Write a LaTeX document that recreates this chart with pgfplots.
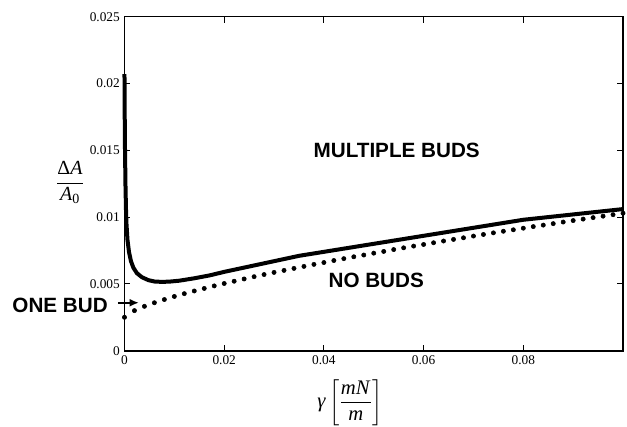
\documentclass[border=0pt]{standalone}
\usepackage{amsmath}
\usepackage{pgfplots}
\pgfplotsset{compat=1.18}
\usetikzlibrary{arrows.meta}
\usepackage{fontspec}
\setmainfont{Liberation Serif}
\newfontfamily\labelfont{Liberation Sans}

% boundary curves
\pgfplotstableread{
x        y
0        0.0207
0.00005  0.0175
0.0001   0.0152
0.0002   0.0124
0.0003   0.0106
0.0004   0.0095
0.0006   0.0083
0.0009   0.0074
0.0013   0.0067
0.0018   0.0062
0.0025   0.0058
0.0035   0.0055
0.0048   0.00528
0.006    0.00518
0.0075   0.00515
0.009    0.00517
0.011    0.00524
0.014    0.00542
0.017    0.00563
0.02     0.00590
0.025    0.0063
0.03     0.0067
0.035    0.0071
0.04     0.0074
0.045    0.0077
0.05     0.0080
0.055    0.0083
0.06     0.0086
0.065    0.0089
0.07     0.0092
0.075    0.0095
0.08     0.0098
0.085    0.0100
0.09     0.0102
0.095    0.0104
0.1      0.0106
}\multiple

\pgfplotstableread{
x      y
0      0.00250
0.002  0.00300
0.004  0.00332
0.006  0.00359
0.008  0.00383
0.010  0.00406
0.012  0.00427
0.014  0.00447
0.016  0.00466
0.018  0.00485
0.020  0.00503
0.022  0.00520
0.024  0.00537
0.026  0.00554
0.028  0.00570
0.030  0.00586
0.032  0.00601
0.034  0.00616
0.036  0.00631
0.038  0.00646
0.040  0.00660
0.042  0.00675
0.044  0.00689
0.046  0.00703
0.048  0.00716
0.050  0.00730
0.052  0.00743
0.054  0.00757
0.056  0.00770
0.058  0.00783
0.060  0.00795
0.062  0.00808
0.064  0.00821
0.066  0.00833
0.068  0.00845
0.070  0.00858
0.072  0.00870
0.074  0.00882
0.076  0.00894
0.078  0.00905
0.080  0.00917
0.082  0.00929
0.084  0.00940
0.086  0.00951
0.088  0.00963
0.090  0.00974
0.092  0.00985
0.094  0.00996
0.096  0.01007
0.098  0.01018
0.100  0.01029
}\onebud

\begin{document}
\begin{tikzpicture}
\begin{axis}[
    scale only axis,
    width=373.9pt,
    height=250.5pt,
    xmin=0, xmax=0.1,
    ymin=0, ymax=0.025,
    clip=false,
    tick align=inside,
    major tick length=4.5pt,
    every tick/.style={black,line width=0.8pt},
    axis line style={line width=1.2pt},
    xtick={0,0.02,0.04,0.06,0.08},
    xticklabels={0,0.02,0.04,0.06,0.08},
    ytick={0,0.005,0.01,0.015,0.02,0.025},
    yticklabels={0,0.005,0.01,0.015,0.02,0.025},
    scaled ticks=false,
    /pgf/number format/assume math mode=true,
    tick label style={font=\fontsize{10}{12}\selectfont},
]
\addplot[black,line width=3pt,line join=round] table[x=x,y=y] {\multiple};
\addplot[black,only marks,mark=*,mark size=1.6pt] table[x=x,y=y] {\onebud};

\node[font=\labelfont\bfseries\fontsize{15.5}{18}\selectfont] at (axis cs:0.0546,0.0150) {MULTIPLE BUDS};
\node[font=\labelfont\bfseries\fontsize{15.5}{18}\selectfont] at (axis cs:0.0505,0.00529) {NO BUDS};
\node[font=\labelfont\bfseries\fontsize{15.5}{18}\selectfont,anchor=east,inner sep=0pt] at (axis cs:-0.0033,0.00342) {ONE BUD};
\draw[-{Latex[length=7pt,width=6pt]},line width=1.5pt] (axis cs:-0.0013,0.00359) -- (axis cs:0.0029,0.00359);

\node[font=\fontsize{15}{17}\selectfont] at (axis cs:-0.01093,0.01257)
  {$\dfrac{\mbox{Δ\textit{A}}}{\mbox{\textit{A}\textsubscript{0}}}$};
\node[font=\fontsize{15.5}{18}\selectfont,inner sep=0pt] at (axis cs:0.0452,-0.0039)
  {$\mbox{\textit{γ}}\left[\dfrac{\mbox{\textit{mN}}}{\mbox{\textit{m}}}\right]$};

\coordinate (bl) at (rel axis cs:-0.2497,-0.2284);
\coordinate (tr) at (rel axis cs:1.008,1.050);
\end{axis}
\pgfresetboundingbox
\path (bl) rectangle (tr);
\end{tikzpicture}
\end{document}
